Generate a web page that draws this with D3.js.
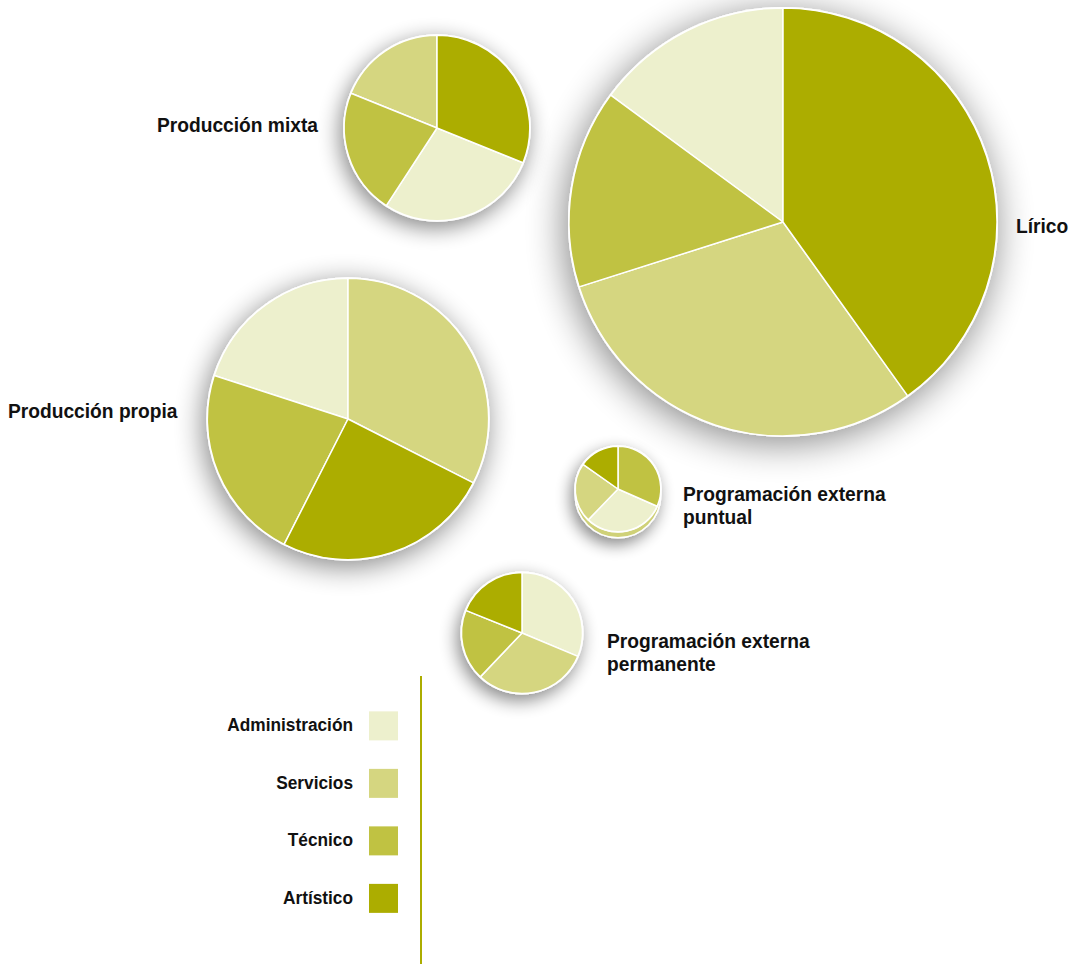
<!DOCTYPE html>
<html>
<head>
<meta charset="utf-8">
<script src="https://cdnjs.cloudflare.com/ajax/libs/d3/7.8.5/d3.min.js"></script>
<style>
  html, body { margin: 0; padding: 0; background: #fff; }
  svg { display: block; }
  text { font-family: "Liberation Sans", Arial, sans-serif; font-weight: bold; fill: #111; }
</style>
</head>
<body>
<svg id="chart" width="1083" height="964"></svg>
<script>
// categories, in legend order
var categories = ['Administración', 'Servicios', 'Técnico', 'Artístico'];
var colors = ['#edf0cd', '#d5d680', '#c0c242', '#acad00'];

// one pie per area
var areas = ['Lírico', 'Producción mixta', 'Producción propia', 'Programación externa puntual', 'Programación externa permanente'];
var areaTotals = [250, 47, 108, 10, 20];

// shares (%) per category, same order as areas
var administracion = [14.9, 28.1, 20.0, 30.6, 31.3];
var servicios      = [30.0, 18.9, 32.5, 22.6, 30.8];
var tecnico        = [15.0, 21.9, 22.5, 31.6, 19.0];
var artistico      = [40.1, 31.1, 25.0, 15.2, 18.9];

var series = [administracion, servicios, tecnico, artistico];

// where each pie and its label sits
var layout = [
    { cx: 783, cy: 222, lx: 1016, ly: 233, anchor: 'start', lines: ['Lírico'] },
    { cx: 437, cy: 128, lx: 318, ly: 132, anchor: 'end', lines: ['Producción mixta'] },
    { cx: 348, cy: 419, lx: 8, ly: 418, anchor: 'start', lines: ['Producción propia'] },
    { cx: 618, cy: 489, lx: 683, ly: 501, anchor: 'start', lines: ['Programación externa', 'puntual'], base: true },
    { cx: 522, cy: 633, lx: 607, ly: 648, anchor: 'start', lines: ['Programación externa', 'permanente'] }
];

var squeeze = 0.96;   // the original face is a bit narrower than Liberation Sans

var svg = d3.select('svg#chart');
var defs = svg.append('defs');

var radius = d3.scaleSqrt().domain([0, d3.max(areaTotals)]).range([0, 214]);

var pie = d3.pie().value(function(d) { return d.value; });   // default sort: largest first
var arc = d3.arc().innerRadius(0);

// soft drop shadow, wider for bigger pies
function shadowFor(id, r) {
    var f = defs.append('filter').attr('id', id)
        .attr('x', '-60%').attr('y', '-60%').attr('width', '220%').attr('height', '220%');
    f.append('feGaussianBlur').attr('in', 'SourceAlpha').attr('stdDeviation', 5 + r * 0.065);
    f.append('feOffset').attr('dx', -3).attr('dy', 6).attr('result', 'off');
    f.append('feComponentTransfer').append('feFuncA').attr('type', 'linear').attr('slope', 0.48);
    var m = f.append('feMerge');
    m.append('feMergeNode');
    m.append('feMergeNode').attr('in', 'SourceGraphic');
    return 'url(#' + id + ')';
}

function addText(x, y, anchor, size, lines) {
    var t = svg.append('text')
        .attr('transform', 'translate(' + x + ',' + y + ') scale(' + squeeze + ',1)')
        .attr('text-anchor', anchor)
        .style('font-size', size + 'px');
    lines.forEach(function(line, j) {
        t.append('tspan')
            .attr('x', 0)
            .attr('dy', j === 0 ? 0 : 23)
            .text(line);
    });
    return t;
}

areas.forEach(function(name, i) {
    var lay = layout[i];
    var r = radius(areaTotals[i]);
    var slices = categories.map(function(c, k) {
        return { cat: c, color: colors[k], value: series[k][i] };
    });

    var g = svg.append('g')
        .attr('class', 'pie')
        .attr('transform', 'translate(' + lay.cx + ',' + lay.cy + ')');

    var body = g.append('g').attr('filter', shadowFor('shadow' + i, r));

    if (lay.base) {
        body.append('circle')
            .attr('cy', 6)
            .attr('r', r)
            .attr('fill', '#cfd178')
            .attr('stroke', '#fff')
            .attr('stroke-width', 1.5);
    }

    body.append('circle')
        .attr('r', r + 1)
        .attr('fill', '#fff');

    body.selectAll('path')
        .data(pie(slices))
        .enter().append('path')
            .attr('d', arc.outerRadius(r))
            .attr('fill', function(d) { return d.data.color; })
            .attr('stroke', '#fff')
            .attr('stroke-width', 1.5)
            .attr('stroke-linejoin', 'round');

    addText(lay.lx, lay.ly, lay.anchor, 20, lay.lines);
});

// legend
var legendY = d3.scaleBand().domain(categories).range([697, 927]).paddingInner(0.5).paddingOuter(0.25);
var legend = svg.append('g').attr('class', 'legend');

legend.selectAll('rect')
    .data(categories)
    .enter().append('rect')
        .attr('x', 369)
        .attr('y', function(d) { return legendY(d); })
        .attr('width', 29)
        .attr('height', 29)
        .attr('fill', function(d, i) { return colors[i]; });

categories.forEach(function(c) {
    addText(353, legendY(c) + 20, 'end', 18, [c]);
});

svg.append('line')
    .attr('x1', 421).attr('x2', 421)
    .attr('y1', 676).attr('y2', 964)
    .attr('stroke', '#acad00')
    .attr('stroke-width', 2);
</script>
</body>
</html>
